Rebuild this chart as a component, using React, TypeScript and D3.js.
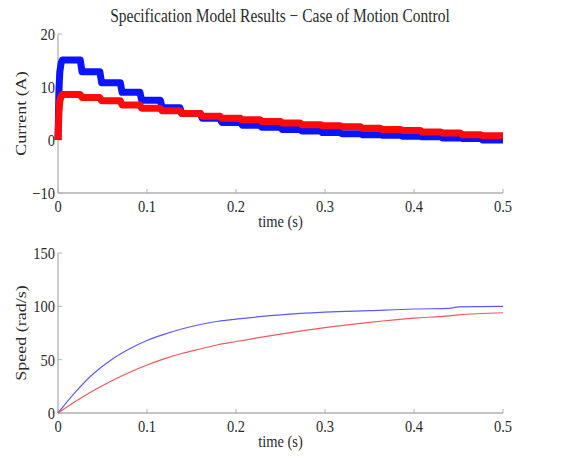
import React, { useRef, useEffect } from "react";
import * as d3 from "d3";

// current plot: staircase levels, one per interval between consecutive step times
const stepTimes = [0.005, 0.025, 0.047, 0.07, 0.092, 0.115, 0.137, 0.16, 0.182, 0.205, 0.227, 0.25, 0.272, 0.295, 0.317, 0.34, 0.362, 0.385, 0.407, 0.43, 0.452, 0.475, 0.5];
const blueCurrent = [15.1, 12.9, 10.8, 9.0, 7.5, 6.1, 5.0, 4.1, 3.3, 2.8, 2.4, 2.0, 1.7, 1.4, 1.2, 1.0, 0.9, 0.7, 0.6, 0.4, 0.3, 0.0];
const redCurrent = [8.6, 8.0, 7.4, 6.6, 6.0, 5.5, 5.0, 4.5, 4.1, 3.8, 3.5, 3.2, 2.9, 2.7, 2.5, 2.2, 2.0, 1.8, 1.5, 1.3, 1.0, 0.8];

// speed plot
const speedTimes = [0, 0.02, 0.04, 0.06, 0.08, 0.1, 0.12, 0.14, 0.16, 0.18, 0.2, 0.25, 0.3, 0.35, 0.4, 0.44, 0.45, 0.5];
const blueSpeed = [0, 20, 37, 50, 60, 68, 74, 79, 83, 86, 88, 92, 94.5, 96, 97.5, 98, 99.5, 100];
const redSpeed = [0, 11, 21, 30, 38, 45, 51, 56, 60, 64, 67, 74, 80, 85, 89, 91, 92, 94];

const timeTicks = [0, 0.1, 0.2, 0.3, 0.4, 0.5];
const currentTicks = [-10, 0, 10, 20];
const speedTicks = [0, 50, 100, 150];

const W = 566, H = 456;
const FONT = "'Liberation Serif', 'Times New Roman', serif";
const TEXT = "#2b2b2b";
const AXIS = "#b0b0b0";
const STRETCH = 1.2; // scanned original is a bit taller than wide

function stairs(levels: number[]) {
  // start from zero, quick rounded rise, then flat steps with short slanted drops
  const pts: [number, number][] = [[0, 0], [0.001, levels[0] * 0.6], [0.002, levels[0] * 0.85], [0.0035, levels[0] * 0.96]];
  levels.forEach((v, i) => {
    pts.push([stepTimes[i] + (i === 0 ? 0 : 0.002), v]);
    pts.push([stepTimes[i + 1], v]);
  });
  return pts;
}

export default function App() {
  const svgRef = useRef<SVGSVGElement>(null);

  useEffect(() => {
    const svg = d3.select(svgRef.current);
    svg.selectAll("*").remove();

    const left = 58, right = 503;
    const x = d3.scaleLinear().domain([0, 0.5]).range([left, right]);

    function label(px: number, py: number, txt: string, size: number, anchor: string, rotate = false) {
      svg.append("text")
        .attr("transform", `translate(${px},${py}) scale(1,${STRETCH})${rotate ? " rotate(-90)" : ""}`)
        .attr("text-anchor", anchor)
        .attr("font-size", `${size}px`).attr("font-family", FONT).attr("fill", TEXT)
        .text(txt);
    }

    function axes(y: d3.ScaleLinear<number, number>, yTicks: number[], yLabel: string) {
      const g = svg.append("g");
      const [y0, y1] = y.range();
      g.append("line")
        .attr("x1", left).attr("x2", left).attr("y1", y0).attr("y2", y1)
        .attr("stroke", AXIS).attr("stroke-width", 1.3);
      g.append("line")
        .attr("x1", left).attr("x2", right).attr("y1", y0).attr("y2", y0)
        .attr("stroke", AXIS).attr("stroke-width", 1.3);

      yTicks.forEach(t => {
        g.append("line")
          .attr("x1", left).attr("x2", left + 4).attr("y1", y(t)).attr("y2", y(t))
          .attr("stroke", AXIS);
        label(left - 3, y(t) + 6, t < 0 ? `\u2212${-t}` : `${t}`, 14.5, "end");
      });
      timeTicks.forEach(t => {
        g.append("line")
          .attr("x1", x(t)).attr("x2", x(t)).attr("y1", y0).attr("y2", y0 - 4)
          .attr("stroke", AXIS);
        label(x(t), y0 + 19, `${t}`, 14.5, "middle");
      });

      label((left + right) / 2, y0 + 34, "time (s)", 14.5, "middle");
      label(26, (y0 + y1) / 2, yLabel, 15, "middle", true);
    }

    // title
    label(280, 22, "Specification Model Results \u2212 Case of Motion Control", 15.5, "middle");

    // top: current
    const yc = d3.scaleLinear().domain([-10, 20]).range([193, 34]);
    axes(yc, currentTicks, "Current (A)");
    const lineC = d3.line<[number, number]>().x(d => x(d[0])).y(d => yc(d[1]));
    svg.append("path")
      .attr("d", lineC(stairs(blueCurrent)))
      .attr("fill", "none").attr("stroke", "#0a14ff").attr("stroke-width", 7)
      .attr("stroke-linejoin", "round");
    svg.append("path")
      .attr("d", lineC(stairs(redCurrent)))
      .attr("fill", "none").attr("stroke", "#ff0a0a").attr("stroke-width", 7)
      .attr("stroke-linejoin", "round");

    // bottom: speed
    const ys = d3.scaleLinear().domain([0, 150]).range([413, 253]);
    axes(ys, speedTicks, "Speed (rad/s)");
    const lineS = d3.line<number>()
      .x((_, i) => x(speedTimes[i]))
      .y(d => ys(d))
      .curve(d3.curveMonotoneX);
    svg.append("path")
      .attr("d", lineS(blueSpeed))
      .attr("fill", "none").attr("stroke", "#5a5aff").attr("stroke-width", 1.2);
    svg.append("path")
      .attr("d", lineS(redSpeed))
      .attr("fill", "none").attr("stroke", "#ee5a5a").attr("stroke-width", 1.2);
  }, []);

  return (
    <div style={{ position: "fixed", left: 0, top: 0, width: W, height: H, background: "#fff" }}>
      <svg ref={svgRef} width={W} height={H} style={{ display: "block" }} />
    </div>
  );
}
